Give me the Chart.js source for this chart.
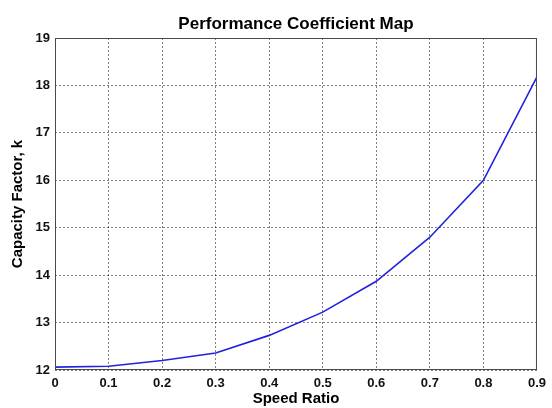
<!DOCTYPE html>
<html>
<head>
<meta charset="utf-8">
<script src="https://cdn.jsdelivr.net/npm/chart.js@4"></script>
<style>
  html, body { margin: 0; padding: 0; background: #fff; }
  #chart { display: block; }
</style>
</head>
<body>
<canvas id="chart" width="552" height="408"></canvas>
<script>
/* ─── Performance coefficient map ─ speed ratio vs capacity factor ─── */
const speedRatio     = [0, 0.1, 0.2, 0.3, 0.4, 0.5, 0.6, 0.7, 0.8, 0.9];
const capacityFactor = [12.06, 12.08, 12.2, 12.36, 12.73, 13.22, 13.87, 14.8, 16.0, 18.18];

const xTickValues = [0, 0.1, 0.2, 0.3, 0.4, 0.5, 0.6, 0.7, 0.8, 0.9];
const xTickLabels = ['0', '0.1', '0.2', '0.3', '0.4', '0.5', '0.6', '0.7', '0.8', '0.9'];
const yTickValues = [12, 13, 14, 15, 16, 17, 18, 19];
const yTickLabels = ['12', '13', '14', '15', '16', '17', '18', '19'];

const FONT = 'Arial, "Liberation Sans", Helvetica, sans-serif';

const GRID = {
  color: 'rgba(0,0,0,0.5)',
  lineWidth: 1,
  tickLength: 0,
  drawTicks: false,
};
const BORDER = { display: false, dash: [2, 2] };

// MATLAB style box round the axes
const boxPlugin = {
  id: 'axesBox',
  afterDraw(chart) {
    const { ctx, chartArea: a } = chart;
    ctx.save();
    ctx.strokeStyle = '#4a4a4a';
    ctx.lineWidth = 1;
    ctx.strokeRect(a.left + 0.5, a.top + 0.5, a.right - a.left - 1, a.bottom - a.top - 1);
    ctx.restore();
  },
};

new Chart(document.getElementById('chart').getContext('2d'), {
  type: 'line',
  data: {
    datasets: [{
      label: 'Capacity Factor',
      data: speedRatio.map((x, i) => ({ x, y: capacityFactor[i] })),
      borderColor: '#2222dd',
      borderWidth: 1.6,
      pointRadius: 0,
      tension: 0,
      fill: false,
    }],
  },
  options: {
    responsive: false,
    animation: false,
    layout: { padding: { left: 0, right: 9, top: 0, bottom: 0 } },
    plugins: {
      legend: { display: false },
      tooltip: { enabled: false },
      title: {
        display: true,
        text: 'Performance Coefficient Map',
        color: '#000',
        fullSize: false,
        font: { family: FONT, size: 17, weight: 'bold' },
        padding: { top: 14, bottom: 3.6 },
      },
    },
    scales: {
      x: {
        type: 'linear',
        min: 0,
        max: 0.9,
        afterBuildTicks: s => { s.ticks = xTickValues.map(value => ({ value })); },
        afterFit: s => { s.height = 38; },
        border: BORDER,
        grid: GRID,
        ticks: {
          color: '#111',
          font: { family: FONT, size: 13, weight: 'bold' },
          padding: 6,
          maxRotation: 0,
          autoSkip: false,
          callback: (v, i) => xTickLabels[i],
        },
        title: {
          display: true,
          text: 'Speed Ratio',
          color: '#000',
          font: { family: FONT, size: 15, weight: 'bold' },
          padding: { top: 0, bottom: 0.5 },
        },
      },
      y: {
        min: 12,
        max: 19,
        afterBuildTicks: s => { s.ticks = yTickValues.map(value => ({ value })); },
        afterFit: s => { s.width = 55; },
        border: BORDER,
        grid: GRID,
        ticks: {
          color: '#111',
          font: { family: FONT, size: 13, weight: 'bold' },
          padding: 5,
          autoSkip: false,
          callback: (v, i) => yTickLabels[i],
        },
        title: {
          display: true,
          text: 'Capacity Factor, k',
          color: '#000',
          font: { family: FONT, size: 15, weight: 'bold' },
          padding: { top: 8.5, bottom: 0 },
        },
      },
    },
  },
  plugins: [boxPlugin],
});
</script>
</body>
</html>
